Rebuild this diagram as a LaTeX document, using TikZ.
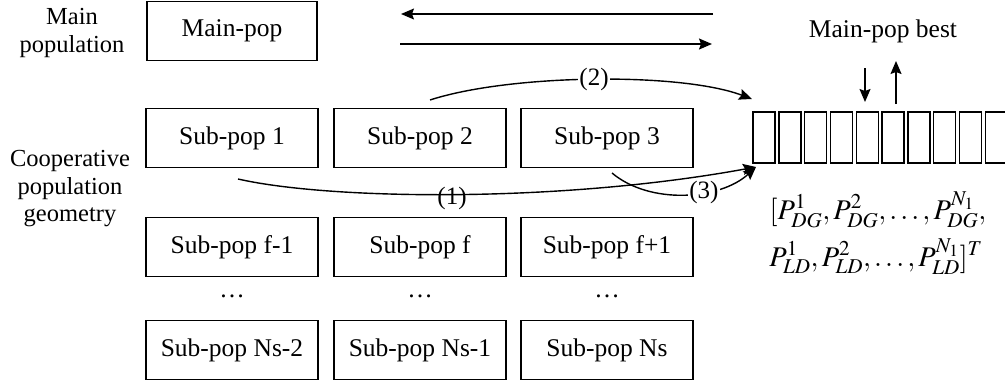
\documentclass[tikz,border=0pt]{standalone}
\usepackage{mathptmx}
\usepackage{fontspec}
\setmainfont{Liberation Serif}
\usetikzlibrary{arrows.meta}
\begin{document}
\begin{tikzpicture}[x=1pt,y=-1pt,
  box/.style={draw,line width=1.4pt,minimum height=59pt,minimum width=172pt,inner sep=0pt,font=\fontsize{25.5}{29}\selectfont},
  lbl/.style={font=\fontsize{24.5}{27.5}\selectfont,align=center,inner sep=0pt},
  cell/.style={draw,line width=1.4pt,minimum width=22pt,minimum height=51pt,inner sep=0pt},
  arr/.style={line width=1.4pt,-{Stealth[length=13pt,width=11pt,inset=2pt]}},
  curve/.style={line width=1.3pt},
  tag/.style={font=\fontsize{25}{29}\selectfont,inner sep=1.5pt},
  formula/.style={anchor=base,inner sep=0pt,font=\fontsize{28.5}{34}\selectfont},
  ]
\useasboundingbox (0,0) rectangle (1005,388);
\clip (0,0) rectangle (1005,388);
% left labels
\node[lbl] (mainlbl) at (72,33) {Main\\population};
\node[lbl] (coop) at (70,189) {Cooperative\\population\\geometry};
% boxes
\node[box,minimum width=170pt] (main) at (232,31) {Main-pop};
\node[box] (s1) at (232,138) {Sub-pop 1};
\node[box] (s2) at (420,138) {Sub-pop 2};
\node[box] (s3) at (607,138) {Sub-pop 3};
\node[box] (sf1) at (232,247) {Sub-pop f-1};
\node[box] (sf) at (420,247) {Sub-pop f};
\node[box] (sf2) at (607,247) {Sub-pop f+1};
\node[lbl,font=\fontsize{25.5}{29}\selectfont] (d1) at (232,296) {…};
\node[lbl,font=\fontsize{25.5}{29}\selectfont] (d2) at (420,296) {…};
\node[lbl,font=\fontsize{25.5}{29}\selectfont] (d3) at (607,296) {…};
\node[box] (sn2) at (232,350) {Sub-pop Ns-2};
\node[box] (sn1) at (420,350) {Sub-pop Ns-1};
\node[box] (sn) at (607,350) {Sub-pop Ns};
% cells
\foreach \i in {0,...,9}{
  \node[cell] (cell\i) at (764+\i*25.8,137.5) {};
}
% top arrows
\coordinate (la1) at (713,14);
\coordinate (la2) at (401,14);
\coordinate (ra1) at (400,44);
\coordinate (ra2) at (712,44);
\draw[arr] (la1) -- (la2);
\draw[arr] (ra1) -- (ra2);
% best
\node[lbl,font=\fontsize{25.5}{29}\selectfont] (best) at (883,31) {Main-pop best};
\coordinate (da1) at (865,68);
\coordinate (da2) at (865,102);
\coordinate (ua1) at (896,104);
\coordinate (ua2) at (896,61);
\draw[arr] (da1) -- (da2);
\draw[arr] (ua1) -- (ua2);
% curves
\coordinate (c2s) at (430,100);
\coordinate (c2e) at (752,99);
\draw[curve,arr] (c2s) .. controls (510,74) and (680,72) .. (c2e)
  node[pos=0.5,tag,fill=white] (t2) {(2)};
\coordinate (c1s) at (238,179);
\coordinate (c1e) at (756,167);
\draw[curve,arr] (c1s) .. controls (330,200) and (560,203) .. (c1e);
\node[tag] (t1) at (452,198) {(1)};
\coordinate (c3s) at (612,173);
\draw[curve,arr] (c3s) .. controls (650,205) and (720,200) .. (c1e)
  node[pos=0.62,tag,fill=white] (t3) {(3)};
% formula
\node[formula] (f1) at (878,219) {$[P_{DG}^{1},P_{DG}^{2},\ldots,P_{DG}^{N_1},$};
\node[formula] (f2) at (876,266) {$P_{LD}^{1},P_{LD}^{2},\ldots,P_{LD}^{N_1}]^T$};
\end{tikzpicture}
\end{document}
